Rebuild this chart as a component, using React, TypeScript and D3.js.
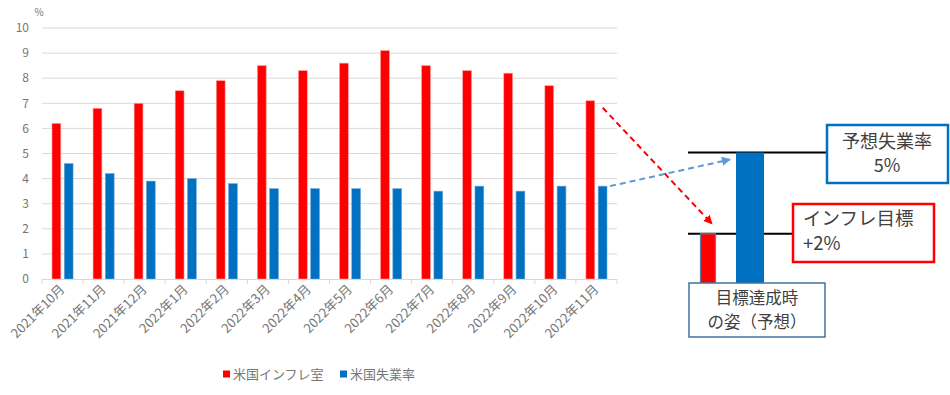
import React, {useEffect, useRef} from 'react';
import * as d3 from "d3";

const categories = ["2021年10月", "2021年11月", "2021年12月", "2022年1月", "2022年2月", "2022年3月", "2022年4月", "2022年5月", "2022年6月", "2022年7月", "2022年8月", "2022年9月", "2022年10月", "2022年11月"];
const inflation = [6.2, 6.8, 7.0, 7.5, 7.9, 8.5, 8.3, 8.6, 9.1, 8.5, 8.3, 8.2, 7.7, 7.1];
const unemployment = [4.6, 4.2, 3.9, 4.0, 3.8, 3.6, 3.6, 3.6, 3.6, 3.5, 3.7, 3.5, 3.7, 3.7];
const yTicks = [0, 1, 2, 3, 4, 5, 6, 7, 8, 9, 10];
const seriesNames = ["米国インフレ室", "米国失業率"];

// target state (right panel)
const targetInflation = 2;
const expectedUnemployment = 5;
const unemploymentBoxLines = ["予想失業率", "5%"];
const inflationBoxLines = ["インフレ目標", "+2%"];
const goalBoxLines = ["目標達成時", "の姿（予想）"];

const RED = "#FF0000";
const BLUE = "#0070C0";
const GRAY = "#767676";
const FONT = "'Noto Sans CJK JP', 'Noto Sans', sans-serif";

function App(){
    const ref = useRef(null)

    useEffect(() =>{
        document.body.style.margin = "0"
        d3.select(ref.current).selectAll("*").remove()
        draw()
    }, [])

    function draw(){
        const svg = d3.select(ref.current)
        .attr("width", 950)
        .attr("height", 395)
        .style("font-family", FONT)

        const left = 42, right = 617, top = 28, bottom = 279

        const x = d3.scaleBand()
        .domain(categories)
        .range([left, right])

        const inner = d3.scaleBand()
        .domain(["a", "b"])
        .range([10, x.bandwidth() - 10])
        .paddingInner(0.28)

        const y = d3.scaleLinear()
        .domain([0, 10])
        .range([bottom, top])

        // gridlines
        svg.append("g")
        .selectAll("line")
        .data(yTicks.slice(1))
        .enter()
        .append("line")
        .attr("x1", left).attr("x2", right)
        .attr("y1", d => y(d)).attr("y2", d => y(d))
        .style("stroke", "#D9D9D9")
        .style("stroke-width", 1)

        // y labels
        svg.append("g")
        .selectAll("text")
        .data(yTicks)
        .enter()
        .append("text")
        .attr("x", 29)
        .attr("y", d => y(d))
        .attr("dy", "0.35em")
        .style("text-anchor", "end")
        .style("font-size", "12px")
        .style("fill", GRAY)
        .text(d => d)

        svg.append("text")
        .attr("x", 39).attr("y", 16)
        .style("text-anchor", "middle")
        .style("font-size", "10px")
        .style("fill", GRAY)
        .text("%")

        // bars
        svg.append("g")
        .selectAll("rect")
        .data(inflation)
        .enter()
        .append("rect")
        .attr("x", (d, i) => x(categories[i]) + inner("a"))
        .attr("y", d => y(d))
        .attr("width", inner.bandwidth())
        .attr("height", d => bottom - y(d))
        .style("fill", RED)
        .style("stroke", "#FF9A9A")
        .style("stroke-width", 0.6)

        svg.append("g")
        .selectAll("rect")
        .data(unemployment)
        .enter()
        .append("rect")
        .attr("x", (d, i) => x(categories[i]) + inner("b"))
        .attr("y", d => y(d))
        .attr("width", inner.bandwidth())
        .attr("height", d => bottom - y(d))
        .style("fill", BLUE)
        .style("stroke", "#6FA8DC")
        .style("stroke-width", 0.6)

        // x axis
        svg.append("line")
        .attr("x1", left).attr("x2", right)
        .attr("y1", bottom + 0.5).attr("y2", bottom + 0.5)
        .style("stroke", "#D9D9D9")

        const edges = categories.map(c => x(c)).concat([right])
        svg.append("g")
        .selectAll("line")
        .data(edges)
        .enter()
        .append("line")
        .attr("x1", d => d).attr("x2", d => d)
        .attr("y1", bottom).attr("y2", bottom + 5)
        .style("stroke", "#D9D9D9")

        svg.append("g")
        .selectAll("text")
        .data(categories)
        .enter()
        .append("text")
        .attr("transform", d => `translate(${x(d) + x.bandwidth()/2 + 3}, ${bottom + 11}) rotate(-45)`)
        .style("text-anchor", "end")
        .style("font-size", "13px")
        .style("fill", GRAY)
        .text(d => d)

        // legend
        const legend = svg.append("g").attr("transform", "translate(223, 374)")
        const legendX = [0, 117]
        seriesNames.forEach((name, i) => {
            legend.append("rect")
            .attr("x", legendX[i]).attr("y", -3.5)
            .attr("width", 7).attr("height", 7)
            .style("fill", i === 0 ? RED : BLUE)
            legend.append("text")
            .attr("x", legendX[i] + 10).attr("y", 0)
            .attr("dy", "0.35em")
            .style("font-size", "13px")
            .style("fill", GRAY)
            .text(name)
        })

        // right panel
        const y2 = d3.scaleLinear()
        .domain([0, expectedUnemployment])
        .range([288, 152.5])

        const lineStart = 688
        svg.append("line")
        .attr("x1", lineStart).attr("x2", 827)
        .attr("y1", y2(expectedUnemployment)).attr("y2", y2(expectedUnemployment))
        .style("stroke", "#000").style("stroke-width", 2)

        svg.append("line")
        .attr("x1", lineStart).attr("x2", 793)
        .attr("y1", y2(targetInflation)).attr("y2", y2(targetInflation))
        .style("stroke", "#000").style("stroke-width", 2)

        svg.append("rect")
        .attr("x", 736).attr("y", y2(expectedUnemployment))
        .attr("width", 28).attr("height", y2(0) - y2(expectedUnemployment))
        .style("fill", BLUE)

        svg.append("rect")
        .attr("x", 700.5).attr("y", y2(targetInflation))
        .attr("width", 15).attr("height", y2(0) - y2(targetInflation))
        .style("fill", RED)
        .style("stroke", "#5B7FA6")
        .style("stroke-width", 1.2)

        // boxes
        function box(bx, by, bw, bh, color, sw){
            svg.append("rect")
            .attr("x", bx).attr("y", by)
            .attr("width", bw).attr("height", bh)
            .style("fill", "#fff")
            .style("stroke", color)
            .style("stroke-width", sw)
        }

        box(827, 125, 121, 58, BLUE, 2.5)
        unemploymentBoxLines.forEach((t, i) => {
            svg.append("text")
            .attr("x", 887).attr("y", 148 + i * 24)
            .style("text-anchor", "middle")
            .style("font-size", "18px")
            .style("fill", "#404040")
            .text(t)
        })

        box(793, 204, 141, 58, RED, 2.5)
        inflationBoxLines.forEach((t, i) => {
            svg.append("text")
            .attr("x", 803).attr("y", 225 + i * 25)
            .style("font-size", "18.5px")
            .style("fill", "#404040")
            .text(t)
        })

        box(689, 283, 136, 54, "#41719C", 1.5)
        goalBoxLines.forEach((t, i) => {
            svg.append("text")
            .attr("x", 757).attr("y", 304 + i * 24)
            .style("text-anchor", "middle")
            .style("font-size", "16.5px")
            .style("fill", "#404040")
            .text(t)
        })

        // arrows
        const defs = svg.append("defs")
        ;[["arrowRed", RED], ["arrowBlue", "#5B9BD5"]].forEach(([id, c]) => {
            defs.append("marker")
            .attr("id", id)
            .attr("viewBox", "0 0 10 10")
            .attr("refX", 9).attr("refY", 5)
            .attr("markerWidth", 4.5).attr("markerHeight", 4.5)
            .attr("orient", "auto")
            .append("path")
            .attr("d", "M0,0 L10,5 L0,10 Z")
            .style("fill", c)
        })

        const last = categories[categories.length - 1]
        const redBarRight = x(last) + inner("a") + inner.bandwidth()
        const blueBarRight = x(last) + inner("b") + inner.bandwidth()

        svg.append("line")
        .attr("x1", redBarRight + 8).attr("y1", y(inflation[inflation.length - 1]) + 7)
        .attr("x2", 712).attr("y2", y2(targetInflation) - 10)
        .style("stroke", RED).style("stroke-width", 2)
        .style("stroke-dasharray", "6,4")
        .attr("marker-end", "url(#arrowRed)")

        svg.append("line")
        .attr("x1", blueBarRight + 3).attr("y1", y(unemployment[unemployment.length - 1]))
        .attr("x2", 730).attr("y2", y2(expectedUnemployment) + 7)
        .style("stroke", "#5B9BD5").style("stroke-width", 2)
        .style("stroke-dasharray", "6,4")
        .attr("marker-end", "url(#arrowBlue)")
    }

    return(
        <svg ref={ref} style={{display: "block"}}></svg>
    )
}

export default App;
